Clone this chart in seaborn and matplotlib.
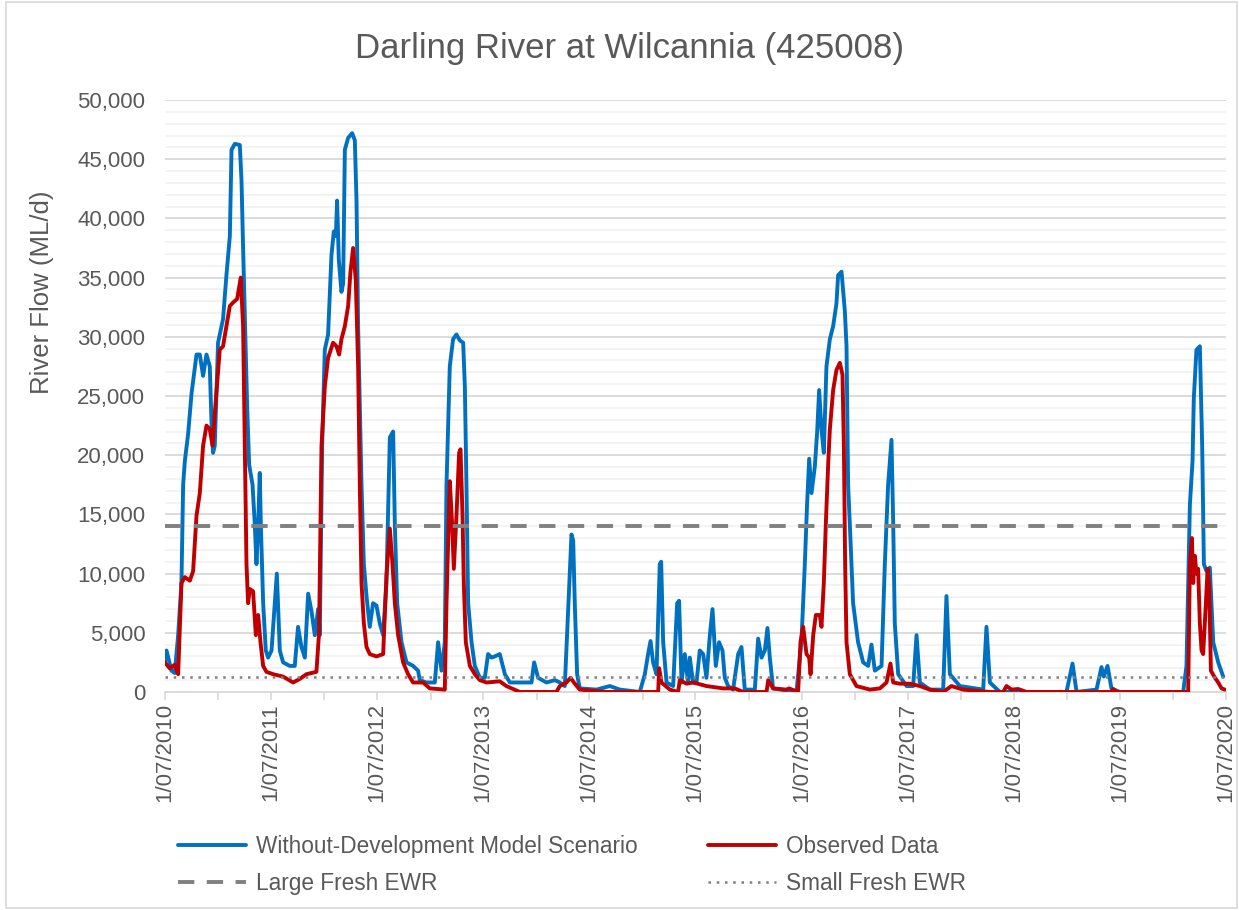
"""Darling River at Wilcannia (425008): modelled vs observed daily flow with EWR thresholds."""

import matplotlib

matplotlib.use("Agg")
import matplotlib.pyplot as plt
import matplotlib.ticker as mticker
import numpy as np
import pandas as pd
import seaborn as sns
from matplotlib.patches import Rectangle

# --- data (decimal year, ML/d) ---
blue_years = [
    2010.500, 2010.516, 2010.563, 2010.594, 2010.626, 2010.657, 2010.673, 2010.689, 2010.720, 2010.752,
    2010.799, 2010.830, 2010.861, 2010.893, 2010.924, 2010.940, 2010.955, 2010.971, 2011.002, 2011.049,
    2011.081, 2011.113, 2011.129, 2011.160, 2011.207, 2011.223, 2011.238, 2011.263, 2011.276, 2011.295,
    2011.327, 2011.348, 2011.364, 2011.380, 2011.395, 2011.405, 2011.427, 2011.452, 2011.474, 2011.506,
    2011.537, 2011.556, 2011.584, 2011.615, 2011.678, 2011.725, 2011.756, 2011.788, 2011.820, 2011.851,
    2011.883, 2011.914, 2011.945, 2011.961, 2011.983, 2012.008, 2012.039, 2012.071, 2012.093, 2012.112,
    2012.124, 2012.140, 2012.165, 2012.181, 2012.197, 2012.228, 2012.266, 2012.291, 2012.307, 2012.322,
    2012.338, 2012.354, 2012.376, 2012.401, 2012.432, 2012.463, 2012.495, 2012.526, 2012.558, 2012.589,
    2012.621, 2012.652, 2012.668, 2012.690, 2012.731, 2012.778, 2012.840, 2012.887, 2012.903, 2012.966,
    2013.045, 2013.076, 2013.108, 2013.139, 2013.155, 2013.186, 2013.217, 2013.249, 2013.280, 2013.312,
    2013.328, 2013.343, 2013.359, 2013.391, 2013.422, 2013.469, 2013.516, 2013.547, 2013.579, 2013.610,
    2013.657, 2013.705, 2013.752, 2013.956, 2013.981, 2014.018, 2014.097, 2014.176, 2014.223, 2014.270,
    2014.311, 2014.333, 2014.349, 2014.364, 2014.386, 2014.411, 2014.569, 2014.694, 2014.788, 2014.977,
    2015.024, 2015.055, 2015.078, 2015.102, 2015.134, 2015.165, 2015.178, 2015.197, 2015.229, 2015.291,
    2015.329, 2015.347, 2015.370, 2015.401, 2015.432, 2015.448, 2015.479, 2015.511, 2015.542, 2015.574,
    2015.605, 2015.637, 2015.662, 2015.693, 2015.724, 2015.756, 2015.778, 2015.809, 2015.856, 2015.904,
    2015.935, 2015.966, 2016.061, 2016.092, 2016.124, 2016.155, 2016.180, 2016.202, 2016.233, 2016.453,
    2016.500, 2016.532, 2016.553, 2016.573, 2016.595, 2016.626, 2016.648, 2016.667, 2016.689, 2016.711,
    2016.736, 2016.768, 2016.799, 2016.830, 2016.846, 2016.878, 2016.909, 2016.925, 2016.940, 2016.956,
    2016.987, 2017.034, 2017.082, 2017.129, 2017.160, 2017.192, 2017.255, 2017.286, 2017.317, 2017.349,
    2017.365, 2017.380, 2017.412, 2017.491, 2017.553, 2017.585, 2017.616, 2017.710, 2017.836, 2017.867,
    2017.899, 2017.993, 2018.213, 2018.244, 2018.276, 2018.370, 2018.998, 2019.055, 2019.093, 2019.281,
    2019.328, 2019.350, 2019.385, 2019.422, 2019.501, 2020.098, 2020.129, 2020.161, 2020.186, 2020.198,
    2020.223, 2020.255, 2020.277, 2020.293, 2020.318, 2020.349, 2020.381, 2020.428, 2020.475,
]
blue_flow = [
    2500, 3500, 1800, 1600, 4800, 9200, 17500, 19500, 21800, 25200,
    28500, 28500, 26700, 28500, 27500, 22800, 20200, 20800, 29500, 31500,
    35200, 38500, 45800, 46300, 46200, 43200, 37500, 28900, 24200, 19200,
    17500, 14200, 10800, 14000, 18500, 14200, 7500, 3500, 2900, 3500,
    7500, 10000, 3500, 2500, 2200, 2200, 5500, 3800, 2900, 8300,
    6800, 4800, 7000, 4800, 20800, 28900, 30200, 36900, 38900, 38500,
    41500, 36500, 33800, 34500, 45800, 46800, 47200, 46600, 41500, 30900,
    24200, 17500, 10800, 8100, 5500, 7500, 7300, 5800, 4800, 9200,
    21500, 22000, 14200, 7500, 4200, 2500, 2200, 1800, 1000, 800,
    800, 4200, 1800, 4200, 17500, 27500, 29800, 30200, 29700, 29500,
    25800, 17500, 7500, 4200, 2200, 1200, 1200, 3200, 2900, 3000,
    3200, 1500, 800, 800, 2500, 1200, 800, 1000, 800, 500,
    8800, 13300, 12800, 7500, 1500, 300, 200, 500, 200, 0,
    1500, 3200, 4300, 2500, 1500, 10800, 11000, 4200, 800, 500,
    7500, 7700, 800, 3200, 800, 2900, 800, 800, 3500, 3200,
    1200, 4800, 7000, 2200, 4200, 3500, 1200, 500, 200, 3200,
    3800, 200, 200, 4500, 2900, 3500, 5400, 2900, 300, 0,
    4200, 10800, 15800, 19700, 16800, 19000, 21900, 25500, 22200, 20200,
    27500, 29800, 30900, 32800, 35200, 35500, 32200, 29200, 17500, 14200,
    7500, 4200, 2500, 2200, 4000, 1800, 2200, 10800, 17500, 21300,
    14200, 5800, 1500, 500, 500, 4800, 800, 200, 200, 8100,
    1500, 500, 200, 5500, 800, 0, 0, 2400, 0, 200,
    2100, 1300, 2200, 300, 0, 0, 2200, 15800, 19500, 24800,
    28900, 29200, 20800, 10800, 10200, 10500, 4200, 2500, 1300,
]

red_years = [
    2010.500, 2010.547, 2010.594, 2010.626, 2010.657, 2010.689, 2010.736, 2010.767, 2010.799, 2010.830,
    2010.861, 2010.893, 2010.924, 2010.950, 2010.971, 2011.018, 2011.049, 2011.081, 2011.113, 2011.144,
    2011.182, 2011.216, 2011.238, 2011.254, 2011.270, 2011.285, 2011.301, 2011.332, 2011.358, 2011.380,
    2011.402, 2011.427, 2011.458, 2011.521, 2011.615, 2011.709, 2011.772, 2011.835, 2011.929, 2011.954,
    2011.977, 2012.008, 2012.039, 2012.086, 2012.118, 2012.143, 2012.165, 2012.197, 2012.228, 2012.250,
    2012.275, 2012.300, 2012.322, 2012.338, 2012.354, 2012.376, 2012.401, 2012.432, 2012.495, 2012.558,
    2012.589, 2012.621, 2012.646, 2012.668, 2012.699, 2012.746, 2012.793, 2012.840, 2012.934, 2012.998,
    2013.139, 2013.155, 2013.186, 2013.208, 2013.224, 2013.249, 2013.274, 2013.287, 2013.306, 2013.318,
    2013.337, 2013.375, 2013.422, 2013.469, 2013.532, 2013.657, 2013.719, 2013.846, 2014.191, 2014.223,
    2014.286, 2014.324, 2014.364, 2014.411, 2014.663, 2015.150, 2015.159, 2015.181, 2015.260, 2015.338,
    2015.354, 2015.417, 2015.479, 2015.605, 2015.762, 2015.872, 2015.951, 2016.171, 2016.187, 2016.233,
    2016.359, 2016.384, 2016.469, 2016.491, 2016.516, 2016.548, 2016.573, 2016.586, 2016.611, 2016.636,
    2016.673, 2016.689, 2016.711, 2016.730, 2016.752, 2016.768, 2016.799, 2016.830, 2016.862, 2016.887,
    2016.900, 2016.912, 2016.925, 2016.956, 2017.019, 2017.145, 2017.239, 2017.302, 2017.339, 2017.365,
    2017.427, 2017.522, 2017.616, 2017.710, 2017.836, 2017.914, 2018.023, 2018.276, 2018.401, 2018.433,
    2018.480, 2018.543, 2018.622, 2019.422, 2019.438, 2019.469, 2020.145, 2020.161, 2020.180, 2020.192,
    2020.208, 2020.223, 2020.239, 2020.255, 2020.271, 2020.286, 2020.312, 2020.328, 2020.343, 2020.359,
    2020.397, 2020.428, 2020.460, 2020.491,
]
red_flow = [
    2500, 2000, 2300, 1500, 9200, 9700, 9400, 10200, 14900, 16800,
    20800, 22500, 22200, 20800, 23500, 28900, 29200, 30900, 32600, 32900,
    33200, 35000, 30900, 20800, 10800, 7500, 8700, 8500, 4800, 6500,
    4200, 2200, 1700, 1500, 1300, 800, 1100, 1500, 1700, 5000,
    20800, 25800, 28200, 29500, 29200, 28500, 29800, 30900, 32600, 35500,
    37500, 34800, 27500, 17500, 9200, 5800, 3800, 3200, 3000, 3200,
    9800, 13800, 10800, 7500, 4800, 2500, 1500, 800, 800, 300,
    200, 7500, 17800, 14200, 10400, 14900, 20200, 20500, 14900, 9200,
    4200, 2200, 1500, 1000, 800, 900, 500, 0, 0, 500,
    800, 1200, 700, 200, 0, 0, 2000, 800, 200, 0,
    1000, 700, 800, 500, 300, 300, 0, 0, 1000, 300,
    200, 300, 0, 4200, 5500, 3200, 2900, 1500, 4800, 6500,
    6500, 5500, 9200, 14200, 19200, 22200, 25500, 27200, 27800, 26800,
    20800, 10800, 4200, 1500, 500, 200, 300, 800, 2400, 800,
    700, 700, 500, 200, 0, 500, 200, 0, 0, 500,
    200, 250, 0, 0, 250, 0, 0, 10800, 13000, 9200,
    11500, 10000, 10400, 5800, 3500, 3200, 7500, 10400, 9000, 1800,
    1200, 800, 300, 200,
]

large_fresh_ewr = 14000
small_fresh_ewr = 1300

series_labels = ["Without-Development Model Scenario", "Observed Data", "Large Fresh EWR", "Small Fresh EWR"]
tick_years = list(range(2010, 2021))
tick_labels = [f"1/07/{y}" for y in tick_years]


def to_dates(years):
    years = np.asarray(years, dtype=float)
    return pd.Timestamp("2010-07-01") + pd.to_timedelta((years - 2010.5) * 365.25, unit="D")


blue_df = pd.DataFrame({"date": to_dates(blue_years), "flow": blue_flow})
red_df = pd.DataFrame({"date": to_dates(red_years), "flow": red_flow})

# --- figure ---
sns.set_theme(style="white")
plt.rcParams["font.family"] = ["Liberation Sans", "DejaVu Sans"]
text_grey = "#595959"

fig = plt.figure(figsize=(12.39, 9.10), dpi=100)
ax = fig.add_axes([0.133, 0.2396, 0.8565, 0.6505])

sns.lineplot(data=blue_df, x="date", y="flow", color="#0070C0", linewidth=2.8, ax=ax,
             label=series_labels[0], zorder=3)
sns.lineplot(data=red_df, x="date", y="flow", color="#C00000", linewidth=2.8, ax=ax,
             label=series_labels[1], zorder=4)
large = ax.axhline(large_fresh_ewr, color="#808080", linewidth=2.8, linestyle=(0, (4.2, 3.2)),
                   label=series_labels[2], zorder=5)
small = ax.axhline(small_fresh_ewr, color="#808080", linewidth=1.8, linestyle=(0, (1, 2.3)),
                   label=series_labels[3], zorder=5)

blue_line, red_line = ax.lines[0], ax.lines[1]

ax.set_xlim(pd.Timestamp("2010-07-01"), pd.Timestamp("2020-07-01"))
ax.set_ylim(0, 50000)

ax.set_yticks(np.arange(0, 50001, 5000))
ax.yaxis.set_major_formatter(mticker.FuncFormatter(lambda v, _: f"{v:,.0f}"))
ax.yaxis.set_minor_locator(mticker.MultipleLocator(1000))
ax.grid(axis="y", which="major", color="#D9D9D9", linewidth=1.3, zorder=0)
ax.grid(axis="y", which="minor", color="#F2F2F2", linewidth=1.3, zorder=0)
ax.set_axisbelow(True)

ax.set_xticks([pd.Timestamp(f"{y}-07-01") for y in tick_years])
ax.set_xticklabels(tick_labels, rotation=90)
ax.set_xticks([pd.Timestamp(f"{y}-01-01") for y in range(2011, 2021)], minor=True)

ax.tick_params(axis="x", which="both", direction="out", length=6, width=1.2, color="#D9D9D9",
               labelsize=16, labelcolor=text_grey, pad=2, bottom=True)
ax.tick_params(axis="y", which="both", length=0, labelsize=16, labelcolor=text_grey, pad=14)

for side in ["top", "right", "left"]:
    ax.spines[side].set_visible(False)
ax.spines["bottom"].set_color("#D9D9D9")
ax.spines["bottom"].set_linewidth(1.3)

ax.set_xlabel("")
ax.set_ylabel("River Flow (ML/d)", fontsize=18.5, color=text_grey)
ax.yaxis.set_label_coords(-0.104, 0.676)

fig.text(0.508, 0.947, "Darling River at Wilcannia (425008)", ha="center", va="center",
         fontsize=25, color=text_grey)

ax.legend(handles=[blue_line, large, red_line, small],
          labels=[series_labels[0], series_labels[2], series_labels[1], series_labels[3]],
          ncol=2, frameon=False, loc="upper left", bbox_to_anchor=(0.1437, 0.082),
          bbox_transform=fig.transFigure, fontsize=16.3, labelcolor=text_grey,
          handlelength=3.0, handletextpad=0.45, columnspacing=3.1, labelspacing=0.6,
          borderpad=0, borderaxespad=0)

fig.add_artist(Rectangle((0.005, 0.002), 0.993, 0.996, transform=fig.transFigure,
                         fill=False, edgecolor="#D9D9D9", linewidth=1.2))

fig.savefig("out.png", dpi=100)
plt.close(fig)
